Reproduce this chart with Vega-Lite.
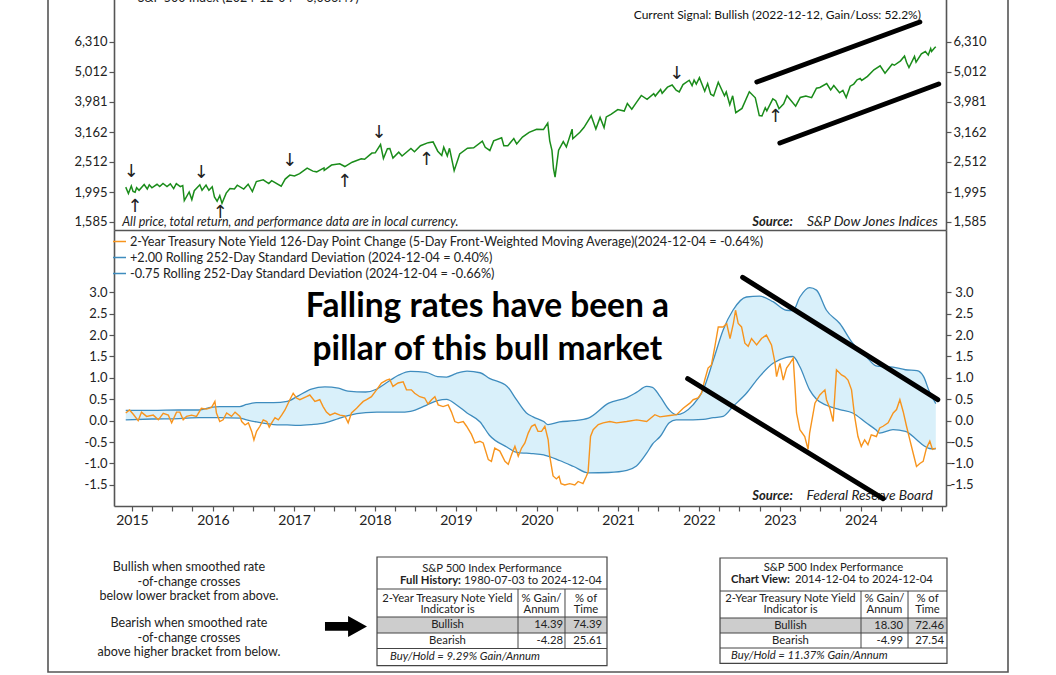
{
"$schema":"https://vega.github.io/schema/vega-lite/v6.json",
"width":960,"height":692,
"autosize":{"type":"none"},
"padding":{"left":48,"right":48,"top":-20,"bottom":3},
"background":"white",
"config":{"view":{"stroke":"#555555","strokeWidth":1.6},"font":"Lato",
 "axis":{"domainColor":"#555555","domainWidth":1.6,"tickColor":"#555555","tickWidth":1.2,"tickSize":5,"labelFont":"Lato","labelFontSize":13,"labelColor":"#222222","grid":false},
 "text":{"font":"Lato","fontSize":12.5,"color":"#222222"}},
"data":{"values":[{}]},
"datasets":{
"price":[
{"date":"2014-12-04","price":2071},{"date":"2014-12-16","price":1973},{"date":"2014-12-29","price":2090},{"date":"2015-01-06","price":2003},{"date":"2015-01-15","price":1992},{"date":"2015-01-22","price":2063},{"date":"2015-02-02","price":2021},{"date":"2015-02-25","price":2114},{"date":"2015-03-11","price":2041},{"date":"2015-03-20","price":2108},{"date":"2015-04-01","price":2060},{"date":"2015-04-24","price":2117},{"date":"2015-05-06","price":2080},{"date":"2015-05-21","price":2131},{"date":"2015-06-08","price":2080},{"date":"2015-06-23","price":2124},{"date":"2015-07-08","price":2047},{"date":"2015-07-20","price":2128},{"date":"2015-08-07","price":2078},{"date":"2015-08-18","price":2097},{"date":"2015-08-25","price":1868},{"date":"2015-09-16","price":1996},{"date":"2015-09-28","price":1882},{"date":"2015-10-09","price":2015},{"date":"2015-11-03","price":2109},{"date":"2015-11-13","price":2023},{"date":"2015-12-01","price":2103},{"date":"2015-12-14","price":2021},{"date":"2015-12-29","price":2078},{"date":"2016-01-08","price":1922},{"date":"2016-01-20","price":1859},{"date":"2016-02-01","price":1940},{"date":"2016-02-11","price":1829},{"date":"2016-03-01","price":1978},{"date":"2016-03-18","price":2049},{"date":"2016-04-07","price":2041},{"date":"2016-04-20","price":2102},{"date":"2016-05-19","price":2040},{"date":"2016-06-08","price":2119},{"date":"2016-06-27","price":2001},{"date":"2016-07-15","price":2162},{"date":"2016-08-15","price":2190},{"date":"2016-09-09","price":2128},{"date":"2016-09-22","price":2177},{"date":"2016-11-04","price":2085},{"date":"2016-11-22","price":2203},{"date":"2016-12-13","price":2271},{"date":"2017-01-03","price":2258},{"date":"2017-01-26","price":2296},{"date":"2017-03-01","price":2396},{"date":"2017-03-27","price":2342},{"date":"2017-04-13","price":2329},{"date":"2017-05-16","price":2400},{"date":"2017-05-17","price":2357},{"date":"2017-06-19","price":2453},{"date":"2017-07-26","price":2477},{"date":"2017-08-18","price":2426},{"date":"2017-09-20","price":2508},{"date":"2017-10-31","price":2575},{"date":"2017-11-15","price":2565},{"date":"2017-12-18","price":2690},{"date":"2018-01-02","price":2695},{"date":"2018-01-26","price":2873},{"date":"2018-02-08","price":2581},{"date":"2018-02-26","price":2780},{"date":"2018-03-09","price":2786},{"date":"2018-03-23","price":2588},{"date":"2018-04-18","price":2708},{"date":"2018-05-03","price":2630},{"date":"2018-06-12","price":2786},{"date":"2018-06-28","price":2716},{"date":"2018-07-25","price":2846},{"date":"2018-08-29","price":2914},{"date":"2018-09-20","price":2931},{"date":"2018-10-11","price":2729},{"date":"2018-10-29","price":2641},{"date":"2018-11-07","price":2814},{"date":"2018-11-23","price":2633},{"date":"2018-12-03","price":2790},{"date":"2018-12-24","price":2351},{"date":"2019-01-18","price":2671},{"date":"2019-02-22","price":2793},{"date":"2019-03-22","price":2801},{"date":"2019-04-30","price":2946},{"date":"2019-05-13","price":2812},{"date":"2019-06-03","price":2744},{"date":"2019-06-20","price":2954},{"date":"2019-07-26","price":3026},{"date":"2019-08-05","price":2844},{"date":"2019-08-23","price":2847},{"date":"2019-09-19","price":3006},{"date":"2019-10-02","price":2887},{"date":"2019-10-28","price":3040},{"date":"2019-11-27","price":3154},{"date":"2019-12-31","price":3231},{"date":"2020-01-31","price":3226},{"date":"2020-02-19","price":3386},{"date":"2020-02-28","price":2954},{"date":"2020-03-09","price":2747},{"date":"2020-03-16","price":2386},{"date":"2020-03-23","price":2237},{"date":"2020-04-08","price":2750},{"date":"2020-04-29","price":2939},{"date":"2020-05-13","price":2820},{"date":"2020-06-08","price":3232},{"date":"2020-06-11","price":3002},{"date":"2020-07-13","price":3155},{"date":"2020-07-31","price":3271},{"date":"2020-09-02","price":3580},{"date":"2020-09-23","price":3237},{"date":"2020-10-12","price":3535},{"date":"2020-10-30","price":3270},{"date":"2020-11-09","price":3550},{"date":"2020-11-30","price":3622},{"date":"2020-12-31","price":3756},{"date":"2021-01-29","price":3714},{"date":"2021-02-12","price":3934},{"date":"2021-03-04","price":3768},{"date":"2021-03-26","price":3975},{"date":"2021-04-16","price":4185},{"date":"2021-05-12","price":4063},{"date":"2021-06-11","price":4247},{"date":"2021-06-18","price":4166},{"date":"2021-07-12","price":4384},{"date":"2021-07-19","price":4258},{"date":"2021-08-12","price":4460},{"date":"2021-09-02","price":4537},{"date":"2021-09-20","price":4358},{"date":"2021-10-04","price":4300},{"date":"2021-10-21","price":4550},{"date":"2021-11-18","price":4704},{"date":"2021-12-01","price":4513},{"date":"2021-12-10","price":4712},{"date":"2021-12-20","price":4568},{"date":"2022-01-03","price":4797},{"date":"2022-01-27","price":4326},{"date":"2022-02-09","price":4587},{"date":"2022-02-23","price":4225},{"date":"2022-03-08","price":4171},{"date":"2022-03-29","price":4632},{"date":"2022-04-26","price":4175},{"date":"2022-05-04","price":4300},{"date":"2022-05-20","price":3901},{"date":"2022-06-02","price":4176},{"date":"2022-06-16","price":3666},{"date":"2022-07-14","price":3790},{"date":"2022-08-16","price":4305},{"date":"2022-09-12","price":4110},{"date":"2022-09-30","price":3586},{"date":"2022-10-12","price":3577},{"date":"2022-10-27","price":3807},{"date":"2022-11-03","price":3720},{"date":"2022-11-30","price":4080},{"date":"2022-12-13","price":4020},{"date":"2022-12-28","price":3783},{"date":"2023-01-18","price":3929},{"date":"2023-02-02","price":4179},{"date":"2023-03-13","price":3855},{"date":"2023-04-03","price":4124},{"date":"2023-04-28","price":4169},{"date":"2023-05-24","price":4116},{"date":"2023-06-15","price":4426},{"date":"2023-06-30","price":4450},{"date":"2023-07-31","price":4589},{"date":"2023-08-18","price":4370},{"date":"2023-09-01","price":4516},{"date":"2023-09-27","price":4274},{"date":"2023-10-12","price":4349},{"date":"2023-10-27","price":4117},{"date":"2023-11-14","price":4496},{"date":"2023-11-30","price":4568},{"date":"2023-12-15","price":4719},{"date":"2023-12-29","price":4770},{"date":"2024-01-05","price":4697},{"date":"2024-01-31","price":4846},{"date":"2024-02-29","price":5096},{"date":"2024-03-28","price":5254},{"date":"2024-04-19","price":4967},{"date":"2024-05-21","price":5321},{"date":"2024-05-31","price":5278},{"date":"2024-06-28","price":5460},{"date":"2024-07-16","price":5667},{"date":"2024-07-25","price":5399},{"date":"2024-08-05","price":5186},{"date":"2024-08-30","price":5648},{"date":"2024-09-06","price":5408},{"date":"2024-09-30","price":5762},{"date":"2024-10-18","price":5864},{"date":"2024-10-31","price":5705},{"date":"2024-11-11","price":6001},{"date":"2024-11-15","price":5870},{"date":"2024-11-29","price":6032},{"date":"2024-12-04","price":6086}
],
"arrows":[
{"date":"2014-12-29","price":2090,"dir":"down"},{"date":"2015-01-15","price":1992,"dir":"up"},{"date":"2015-11-10","price":2081,"dir":"down"},{"date":"2016-02-03","price":1912,"dir":"up"},{"date":"2016-12-13","price":2271,"dir":"down"},{"date":"2017-08-18","price":2425,"dir":"up"},{"date":"2018-01-19","price":2810,"dir":"down"},{"date":"2018-08-21","price":2862,"dir":"up"},{"date":"2021-09-23","price":4448,"dir":"down"},{"date":"2022-12-12","price":3990,"dir":"up"}
],
"roc":[
{"date":"2014-12-04","v":0.18},{"date":"2014-12-21","v":0.25},{"date":"2015-01-07","v":0.15},{"date":"2015-01-29","v":0.0},{"date":"2015-02-13","v":0.2},{"date":"2015-03-08","v":0.1},{"date":"2015-04-07","v":0.13},{"date":"2015-04-30","v":0.02},{"date":"2015-05-22","v":0.17},{"date":"2015-06-14","v":0.13},{"date":"2015-06-29","v":-0.05},{"date":"2015-07-21","v":0.2},{"date":"2015-08-05","v":0.2},{"date":"2015-08-20","v":0.02},{"date":"2015-09-04","v":0.1},{"date":"2015-09-27","v":0.13},{"date":"2015-10-19","v":0.1},{"date":"2015-11-10","v":0.29},{"date":"2015-12-03","v":0.27},{"date":"2015-12-26","v":0.31},{"date":"2016-01-10","v":0.45},{"date":"2016-01-17","v":0.18},{"date":"2016-02-01","v":-0.02},{"date":"2016-02-16","v":0.02},{"date":"2016-03-03","v":0.18},{"date":"2016-03-25","v":0.1},{"date":"2016-04-10","v":0.2},{"date":"2016-05-02","v":0.1},{"date":"2016-05-10","v":-0.02},{"date":"2016-05-25","v":-0.1},{"date":"2016-06-09","v":-0.05},{"date":"2016-06-24","v":-0.25},{"date":"2016-07-04","v":-0.45},{"date":"2016-07-16","v":-0.25},{"date":"2016-07-31","v":-0.13},{"date":"2016-08-15","v":0.02},{"date":"2016-08-31","v":-0.02},{"date":"2016-09-11","v":-0.15},{"date":"2016-09-22","v":-0.05},{"date":"2016-10-07","v":0.07},{"date":"2016-10-22","v":0.02},{"date":"2016-11-06","v":0.13},{"date":"2016-11-21","v":0.25},{"date":"2016-12-13","v":0.49},{"date":"2016-12-28","v":0.64},{"date":"2017-01-12","v":0.53},{"date":"2017-01-27","v":0.49},{"date":"2017-02-26","v":0.56},{"date":"2017-03-13","v":0.6},{"date":"2017-04-05","v":0.45},{"date":"2017-04-27","v":0.49},{"date":"2017-05-12","v":0.33},{"date":"2017-05-27","v":0.2},{"date":"2017-06-12","v":0.13},{"date":"2017-07-04","v":0.18},{"date":"2017-07-27","v":0.13},{"date":"2017-08-18","v":0.11},{"date":"2017-09-02","v":-0.05},{"date":"2017-09-17","v":0.18},{"date":"2017-10-10","v":0.29},{"date":"2017-10-25","v":0.37},{"date":"2017-11-09","v":0.45},{"date":"2017-11-24","v":0.49},{"date":"2017-12-16","v":0.56},{"date":"2018-01-08","v":0.72},{"date":"2018-01-30","v":0.88},{"date":"2018-02-22","v":0.95},{"date":"2018-03-08","v":0.97},{"date":"2018-03-23","v":0.8},{"date":"2018-04-15","v":0.88},{"date":"2018-05-08","v":0.91},{"date":"2018-05-23","v":0.72},{"date":"2018-06-14","v":0.72},{"date":"2018-06-29","v":0.64},{"date":"2018-07-22","v":0.56},{"date":"2018-08-13","v":0.53},{"date":"2018-08-28","v":0.39},{"date":"2018-09-13","v":0.49},{"date":"2018-09-28","v":0.56},{"date":"2018-10-13","v":0.37},{"date":"2018-11-04","v":0.33},{"date":"2018-11-27","v":0.37},{"date":"2018-12-12","v":0.2},{"date":"2018-12-27","v":-0.02},{"date":"2019-01-11","v":-0.05},{"date":"2019-02-03","v":-0.02},{"date":"2019-02-18","v":-0.13},{"date":"2019-03-12","v":-0.32},{"date":"2019-03-28","v":-0.52},{"date":"2019-04-19","v":-0.48},{"date":"2019-05-04","v":-0.52},{"date":"2019-05-27","v":-0.91},{"date":"2019-06-10","v":-0.95},{"date":"2019-06-25","v":-0.64},{"date":"2019-07-18","v":-0.71},{"date":"2019-08-10","v":-0.95},{"date":"2019-08-25","v":-1.02},{"date":"2019-09-09","v":-0.79},{"date":"2019-09-24","v":-0.6},{"date":"2019-10-09","v":-0.83},{"date":"2019-10-24","v":-0.64},{"date":"2019-11-08","v":-0.52},{"date":"2019-11-23","v":-0.29},{"date":"2019-12-08","v":-0.13},{"date":"2019-12-23","v":-0.09},{"date":"2020-01-06","v":-0.25},{"date":"2020-01-22","v":-0.25},{"date":"2020-02-06","v":-0.13},{"date":"2020-02-21","v":-0.45},{"date":"2020-02-28","v":-0.83},{"date":"2020-03-14","v":-1.29},{"date":"2020-03-29","v":-1.36},{"date":"2020-04-10","v":-1.3},{"date":"2020-04-19","v":-1.47},{"date":"2020-05-06","v":-1.5},{"date":"2020-05-28","v":-1.47},{"date":"2020-06-20","v":-1.5},{"date":"2020-07-05","v":-1.42},{"date":"2020-07-27","v":-1.47},{"date":"2020-08-11","v":-1.3},{"date":"2020-08-19","v":-1.2},{"date":"2020-08-30","v":-0.37},{"date":"2020-09-11","v":-0.21},{"date":"2020-10-04","v":-0.09},{"date":"2020-10-26","v":-0.05},{"date":"2020-11-25","v":-0.02},{"date":"2020-12-25","v":-0.05},{"date":"2021-02-09","v":-0.02},{"date":"2021-03-26","v":0.02},{"date":"2021-05-10","v":-0.02},{"date":"2021-06-16","v":0.14},{"date":"2021-07-09","v":0.09},{"date":"2021-08-23","v":0.12},{"date":"2021-09-22","v":0.14},{"date":"2021-10-22","v":0.29},{"date":"2021-11-21","v":0.41},{"date":"2021-12-06","v":0.49},{"date":"2021-12-28","v":0.53},{"date":"2022-01-12","v":0.64},{"date":"2022-01-27","v":0.95},{"date":"2022-02-11","v":1.23},{"date":"2022-02-26","v":1.3},{"date":"2022-03-14","v":1.74},{"date":"2022-03-29","v":2.19},{"date":"2022-04-20","v":2.19},{"date":"2022-05-06","v":2.27},{"date":"2022-05-21","v":1.92},{"date":"2022-06-05","v":2.27},{"date":"2022-06-15","v":2.58},{"date":"2022-06-27","v":2.27},{"date":"2022-07-12","v":2.19},{"date":"2022-07-27","v":1.81},{"date":"2022-08-11","v":1.74},{"date":"2022-08-26","v":1.92},{"date":"2022-09-18","v":1.77},{"date":"2022-10-10","v":1.92},{"date":"2022-11-01","v":2.0},{"date":"2022-11-24","v":1.77},{"date":"2022-12-09","v":1.38},{"date":"2022-12-17","v":1.03},{"date":"2023-01-01","v":1.34},{"date":"2023-01-16","v":0.95},{"date":"2023-01-31","v":1.23},{"date":"2023-02-15","v":1.34},{"date":"2023-03-02","v":1.46},{"date":"2023-03-09","v":0.88},{"date":"2023-03-17","v":0.18},{"date":"2023-04-01","v":-0.21},{"date":"2023-04-23","v":-0.37},{"date":"2023-05-08","v":-0.67},{"date":"2023-05-15","v":-0.29},{"date":"2023-06-08","v":0.41},{"date":"2023-06-30","v":0.6},{"date":"2023-07-23","v":0.72},{"date":"2023-07-30","v":0.49},{"date":"2023-08-14","v":0.29},{"date":"2023-08-29","v":-0.02},{"date":"2023-09-13","v":1.19},{"date":"2023-10-06","v":1.07},{"date":"2023-10-20","v":1.03},{"date":"2023-11-04","v":0.95},{"date":"2023-11-20","v":0.72},{"date":"2023-12-04","v":0.1},{"date":"2023-12-19","v":-0.37},{"date":"2024-01-03","v":-0.6},{"date":"2024-01-18","v":-0.45},{"date":"2024-02-02","v":-0.56},{"date":"2024-02-17","v":-0.33},{"date":"2024-03-11","v":-0.37},{"date":"2024-03-26","v":-0.17},{"date":"2024-04-10","v":-0.13},{"date":"2024-05-03","v":-0.05},{"date":"2024-05-26","v":0.18},{"date":"2024-06-10","v":0.26},{"date":"2024-06-25","v":0.49},{"date":"2024-07-10","v":0.21},{"date":"2024-07-25","v":-0.13},{"date":"2024-08-09","v":-0.45},{"date":"2024-08-24","v":-0.76},{"date":"2024-09-08","v":-1.07},{"date":"2024-09-23","v":-1.0},{"date":"2024-10-08","v":-0.95},{"date":"2024-10-23","v":-0.64},{"date":"2024-11-07","v":-0.48},{"date":"2024-11-19","v":-0.67},{"date":"2024-12-04","v":-0.64}
],
"band":[
{"date":"2014-12-04","upper":0.24,"lower":0.02},{"date":"2015-04-01","upper":0.24,"lower":0.04},{"date":"2015-08-01","upper":0.25,"lower":0.05},{"date":"2015-11-01","upper":0.25,"lower":0.07},{"date":"2015-12-20","upper":0.31,"lower":0.07},{"date":"2016-02-01","upper":0.33,"lower":0.07},{"date":"2016-05-01","upper":0.33,"lower":0.06},{"date":"2016-06-01","upper":0.38,"lower":0.02},{"date":"2016-07-15","upper":0.42,"lower":-0.03},{"date":"2016-10-01","upper":0.42,"lower":-0.09},{"date":"2016-12-01","upper":0.45,"lower":-0.1},{"date":"2017-01-20","upper":0.58,"lower":-0.11},{"date":"2017-03-20","upper":0.74,"lower":-0.09},{"date":"2017-05-20","upper":0.79,"lower":-0.05},{"date":"2017-07-20","upper":0.76,"lower":0.05},{"date":"2017-09-01","upper":0.69,"lower":0.12},{"date":"2017-11-20","upper":0.67,"lower":0.19},{"date":"2018-01-10","upper":0.74,"lower":0.2},{"date":"2018-02-20","upper":0.88,"lower":0.2},{"date":"2018-04-20","upper":1.07,"lower":0.2},{"date":"2018-06-10","upper":1.15,"lower":0.22},{"date":"2018-08-20","upper":1.13,"lower":0.36},{"date":"2018-10-10","upper":1.03,"lower":0.47},{"date":"2018-11-20","upper":1.02,"lower":0.5},{"date":"2019-01-01","upper":1.1,"lower":0.38},{"date":"2019-02-20","upper":1.16,"lower":0.18},{"date":"2019-04-20","upper":1.12,"lower":-0.03},{"date":"2019-06-01","upper":0.99,"lower":-0.34},{"date":"2019-08-20","upper":0.8,"lower":-0.62},{"date":"2019-10-01","upper":0.49,"lower":-0.74},{"date":"2019-11-15","upper":0.18,"lower":-0.76},{"date":"2019-12-15","upper":0.09,"lower":-0.77},{"date":"2020-02-01","upper":-0.02,"lower":-0.8},{"date":"2020-02-20","upper":-0.09,"lower":-0.83},{"date":"2020-04-12","upper":-0.03,"lower":-0.93},{"date":"2020-06-15","upper":0.0,"lower":-1.07},{"date":"2020-08-20","upper":0.06,"lower":-1.22},{"date":"2020-11-20","upper":0.41,"lower":-1.21},{"date":"2021-02-10","upper":0.54,"lower":-1.16},{"date":"2021-03-25","upper":0.66,"lower":-1.06},{"date":"2021-05-10","upper":0.8,"lower":-0.76},{"date":"2021-06-05","upper":0.78,"lower":-0.55},{"date":"2021-07-10","upper":0.56,"lower":-0.37},{"date":"2021-08-20","upper":0.25,"lower":-0.05},{"date":"2021-09-20","upper":0.14,"lower":0.02},{"date":"2021-12-05","upper":0.37,"lower":0.02},{"date":"2022-01-20","upper":0.72,"lower":0.03},{"date":"2022-03-07","upper":1.42,"lower":0.07},{"date":"2022-04-20","upper":2.12,"lower":0.1},{"date":"2022-06-03","upper":2.58,"lower":0.33},{"date":"2022-08-03","upper":2.89,"lower":0.64},{"date":"2022-10-01","upper":2.91,"lower":1.03},{"date":"2022-12-01","upper":2.78,"lower":1.34},{"date":"2023-01-30","upper":2.58,"lower":1.48},{"date":"2023-03-01","upper":2.57,"lower":1.5},{"date":"2023-04-01","upper":2.89,"lower":1.26},{"date":"2023-05-15","upper":3.11,"lower":0.72},{"date":"2023-06-15","upper":3.05,"lower":0.5},{"date":"2023-07-30","upper":2.58,"lower":0.36},{"date":"2023-09-28","upper":2.27,"lower":0.26},{"date":"2023-11-25","upper":1.81,"lower":0.18},{"date":"2024-01-25","upper":1.5,"lower":-0.05},{"date":"2024-03-10","upper":1.28,"lower":-0.22},{"date":"2024-03-25","upper":1.27,"lower":-0.29},{"date":"2024-05-25","upper":1.25,"lower":-0.21},{"date":"2024-07-20","upper":1.19,"lower":-0.25},{"date":"2024-09-10","upper":1.17,"lower":-0.45},{"date":"2024-10-10","upper":1.03,"lower":-0.58},{"date":"2024-11-05","upper":0.68,"lower":-0.65},{"date":"2024-12-04","upper":0.4,"lower":-0.66}
],
"cells":[
{"tbl":"full","r":1,"c":0,"text":"2-Year Treasury Note Yield\nIndicator is"},{"tbl":"full","r":1,"c":1,"text":"% Gain/\nAnnum"},{"tbl":"full","r":1,"c":2,"text":"% of\nTime"},
{"tbl":"full","r":2,"c":0,"text":"Bullish"},{"tbl":"full","r":2,"c":1,"text":"14.39"},{"tbl":"full","r":2,"c":2,"text":"74.39"},
{"tbl":"full","r":3,"c":0,"text":"Bearish"},{"tbl":"full","r":3,"c":1,"text":"-4.28"},{"tbl":"full","r":3,"c":2,"text":"25.61"},
{"tbl":"chart","r":1,"c":0,"text":"2-Year Treasury Note Yield\nIndicator is"},{"tbl":"chart","r":1,"c":1,"text":"% Gain/\nAnnum"},{"tbl":"chart","r":1,"c":2,"text":"% of\nTime"},
{"tbl":"chart","r":2,"c":0,"text":"Bullish"},{"tbl":"chart","r":2,"c":1,"text":"18.30"},{"tbl":"chart","r":2,"c":2,"text":"72.46"},
{"tbl":"chart","r":3,"c":0,"text":"Bearish"},{"tbl":"chart","r":3,"c":1,"text":"-4.99"},{"tbl":"chart","r":3,"c":2,"text":"27.54"}
]
},
"resolve":{"scale":{"x":"independent","y":"independent","color":"independent"},"axis":{"x":"independent","y":"independent"},"legend":{"color":"independent"}},
"layer":[
{"data":{"name":"price"},"mark":{"type":"line","color":"#1a8c1a","strokeWidth":1.5},
 "encoding":{"x":{"field":"date","type":"temporal","scale":{"domain":[{"year":2014,"month":10,"date":12},{"year":2025,"month":1,"date":19}],"range":[66,898],"nice":false},"axis":{"orient":"bottom","offset":-442,"labels":false,"ticks":false,"title":null}},
  "y":{"field":"price","type":"quantitative","scale":{"type":"log","domain":[1490.5,10154],"range":[250,0],"nice":false},"axis":{"orient":"left","offset":-66,"values":[1585,1995,2512,3162,3981,5012,6310],"format":",d","labelPadding":2,"title":null}}}},
{"data":{"name":"arrows"},"transform":[{"filter":"datum.dir == 'down'"}],
 "mark":{"type":"text","text":"↓","font":"DejaVu Sans","fontSize":18,"baseline":"middle","dy":-14,"color":"#222222"},
 "encoding":{"x":{"field":"date","type":"temporal","scale":{"domain":[{"year":2014,"month":10,"date":12},{"year":2025,"month":1,"date":19}],"range":[66,898],"nice":false},"axis":null},
  "y":{"field":"price","type":"quantitative","scale":{"type":"log","domain":[1490.5,10154],"range":[250,0],"nice":false},"axis":{"orient":"right","offset":-62,"values":[1585,1995,2512,3162,3981,5012,6310],"format":",d","labelPadding":2,"title":null}}}},
{"data":{"name":"arrows"},"transform":[{"filter":"datum.dir == 'up'"}],
 "mark":{"type":"text","text":"↑","font":"DejaVu Sans","fontSize":18,"baseline":"middle","dy":15,"color":"#222222"},
 "encoding":{"x":{"field":"date","type":"temporal","scale":{"domain":[{"year":2014,"month":10,"date":12},{"year":2025,"month":1,"date":19}],"range":[66,898],"nice":false},"axis":null},
  "y":{"field":"price","type":"quantitative","scale":{"type":"log","domain":[1490.5,10154],"range":[250,0],"nice":false},"axis":null}}},
{"data":{"values":[{"seg":"a","date":"2022-09-19","price":4642},{"seg":"a","date":"2024-09-23","price":7356},{"seg":"b","date":"2023-01-01","price":2906},{"seg":"b","date":"2024-12-17","price":4571}]},
 "mark":{"type":"line","color":"black","strokeWidth":5,"strokeCap":"round"},
 "encoding":{"x":{"field":"date","type":"temporal","scale":{"domain":[{"year":2014,"month":10,"date":12},{"year":2025,"month":1,"date":19}],"range":[66,898],"nice":false},"axis":null},
  "y":{"field":"price","type":"quantitative","scale":{"type":"log","domain":[1490.5,10154],"range":[250,0],"nice":false},"axis":null},"detail":{"field":"seg"}}},
{"mark":{"type":"text","text":"Current Signal: Bullish (2022-12-12, Gain/Loss: 52.2%)","align":"right","baseline":"middle","fontSize":12,"color":"#111111"},
 "encoding":{"x":{"datum":{"year":2024,"month":9,"date":28},"type":"temporal","scale":{"domain":[{"year":2014,"month":10,"date":12},{"year":2025,"month":1,"date":19}],"range":[66,898],"nice":false},"axis":null},
  "y":{"datum":7762,"type":"quantitative","scale":{"type":"log","domain":[1490.5,10154],"range":[250,0],"nice":false},"axis":null}}},
{"mark":{"type":"text","text":"S&P 500 Index (2024-12-04 = 6,086.49)","align":"left","baseline":"alphabetic","fontSize":12.5},
 "encoding":{"x":{"datum":{"year":2015,"month":1,"date":27},"type":"temporal","scale":{"domain":[{"year":2014,"month":10,"date":12},{"year":2025,"month":1,"date":19}],"range":[66,898],"nice":false},"axis":null},
  "y":{"datum":8577,"type":"quantitative","scale":{"type":"log","domain":[1490.5,10154],"range":[250,0],"nice":false},"axis":null}}},
{"mark":{"type":"text","text":"All price, total return, and performance data are in local currency.","align":"left","baseline":"middle","fontStyle":"italic","fontSize":12.5},
 "encoding":{"x":{"datum":{"year":2014,"month":11,"date":18},"type":"temporal","scale":{"domain":[{"year":2014,"month":10,"date":12},{"year":2025,"month":1,"date":19}],"range":[66,898],"nice":false},"axis":null},
  "y":{"datum":1585,"type":"quantitative","scale":{"type":"log","domain":[1490.5,10154],"range":[250,0],"nice":false},"axis":null}}},
{"mark":{"type":"text","text":"Source:","align":"right","baseline":"middle","fontStyle":"italic","fontWeight":"bold","fontSize":13},
 "encoding":{"x":{"datum":{"year":2023,"month":2,"date":28},"type":"temporal","scale":{"domain":[{"year":2014,"month":10,"date":12},{"year":2025,"month":1,"date":19}],"range":[66,898],"nice":false},"axis":null},
  "y":{"datum":1585,"type":"quantitative","scale":{"type":"log","domain":[1490.5,10154],"range":[250,0],"nice":false},"axis":null}}},
{"mark":{"type":"text","text":"S&P Dow Jones Indices","align":"right","baseline":"middle","fontStyle":"italic","fontSize":13.8},
 "encoding":{"x":{"datum":{"year":2024,"month":12,"date":13},"type":"temporal","scale":{"domain":[{"year":2014,"month":10,"date":12},{"year":2025,"month":1,"date":19}],"range":[66,898],"nice":false},"axis":null},
  "y":{"datum":1585,"type":"quantitative","scale":{"type":"log","domain":[1490.5,10154],"range":[250,0],"nice":false},"axis":null}}},

{"data":{"name":"band"},"mark":{"type":"area","color":"#d9f0fa","interpolate":"monotone"},
 "encoding":{"x":{"field":"date","type":"temporal","scale":{"domain":[{"year":2014,"month":10,"date":12},{"year":2025,"month":1,"date":19}],"range":[66,898],"nice":false},
   "axis":{"orient":"bottom","offset":-166,"tickCount":{"interval":"month","step":3},"labelExpr":"month(datum.value) == 0 && year(datum.value) < 2025 ? timeFormat(datum.value, '%Y') : ''","labelFontSize":14,"labelOverlap":false,"labelFlush":false,"labelPadding":2,"title":null}},
  "y":{"field":"upper","type":"quantitative","scale":{"domain":[-1.993,4.455],"range":[526,250],"nice":false,"zero":false},
   "axis":{"orient":"left","offset":-66,"values":[-1.5,-1,-0.5,0,0.5,1,1.5,2,2.5,3],"format":".1f","labelExpr":"replace(datum.label, '\u2212', '-')","labelPadding":2,"title":null}},
  "y2":{"field":"lower"}}},
{"data":{"name":"band"},"transform":[{"fold":["upper","lower"],"as":["key","v"]}],
 "mark":{"type":"line","strokeWidth":1.3,"interpolate":"monotone"},
 "encoding":{"x":{"field":"date","type":"temporal","scale":{"domain":[{"year":2014,"month":10,"date":12},{"year":2025,"month":1,"date":19}],"range":[66,898],"nice":false},"axis":null},
  "y":{"field":"v","type":"quantitative","scale":{"domain":[-1.993,4.455],"range":[526,250],"nice":false,"zero":false},"axis":null},
  "color":{"field":"key","type":"nominal","scale":{"domain":["roc","upper","lower"],"range":["#f7941d","#3e8cbe","#3e8cbe"]},
   "legend":{"orient":"none","legendX":64,"legendY":254,"title":null,"padding":0,"symbolType":"stroke","symbolSize":170,"symbolStrokeWidth":1.5,"labelFont":"Lato","labelFontSize":12.7,"labelColor":"#222222","labelLimit":900,"rowPadding":1,"labelOffset":3,
    "labelExpr":"datum.label == 'roc' ? '2-Year Treasury Note Yield 126-Day Point Change (5-Day Front-Weighted Moving Average)(2024-12-04 = -0.64%)' : datum.label == 'upper' ? '+2.00 Rolling 252-Day Standard Deviation (2024-12-04 = 0.40%)' : '-0.75 Rolling 252-Day Standard Deviation (2024-12-04 = -0.66%)'"}}}},
{"data":{"name":"roc"},"mark":{"type":"line","color":"#f7941d","strokeWidth":1.4},
 "encoding":{"x":{"field":"date","type":"temporal","scale":{"domain":[{"year":2014,"month":10,"date":12},{"year":2025,"month":1,"date":19}],"range":[66,898],"nice":false},"axis":null},
  "y":{"field":"v","type":"quantitative","scale":{"domain":[-1.993,4.455],"range":[526,250],"nice":false,"zero":false},
   "axis":{"orient":"right","offset":-62,"values":[-1.5,-1,-0.5,0,0.5,1,1.5,2,2.5,3],"format":".1f","labelExpr":"replace(datum.label, '\u2212', '-')","labelAlign":"right","labelPadding":22,"title":null}}}},
{"mark":{"type":"text","text":"Source:","align":"right","baseline":"middle","fontStyle":"italic","fontWeight":"bold","fontSize":13},
 "encoding":{"x":{"datum":{"year":2023,"month":2,"date":28},"type":"temporal","scale":{"domain":[{"year":2014,"month":10,"date":12},{"year":2025,"month":1,"date":19}],"range":[66,898],"nice":false},"axis":null},
  "y":{"datum":-1.77,"type":"quantitative","scale":{"domain":[-1.993,4.455],"range":[526,250],"nice":false,"zero":false},"axis":null}}},
{"mark":{"type":"text","text":"Federal Reserve Board","align":"right","baseline":"middle","fontStyle":"italic","fontSize":13.8},
 "encoding":{"x":{"datum":{"year":2024,"month":11,"date":21},"type":"temporal","scale":{"domain":[{"year":2014,"month":10,"date":12},{"year":2025,"month":1,"date":19}],"range":[66,898],"nice":false},"axis":null},
  "y":{"datum":-1.77,"type":"quantitative","scale":{"domain":[-1.993,4.455],"range":[526,250],"nice":false,"zero":false},"axis":null}}},
{"data":{"values":[{"seg":"a","date":"2022-07-17","v":3.35},{"seg":"a","date":"2024-12-13","v":0.49},{"seg":"b","date":"2021-11-11","v":0.98},{"seg":"b","date":"2024-04-10","v":-1.82}]},
 "mark":{"type":"line","color":"black","strokeWidth":5,"strokeCap":"round"},
 "encoding":{"x":{"field":"date","type":"temporal","scale":{"domain":[{"year":2014,"month":10,"date":12},{"year":2025,"month":1,"date":19}],"range":[66,898],"nice":false},"axis":null},
  "y":{"field":"v","type":"quantitative","scale":{"domain":[-1.993,4.455],"range":[526,250],"nice":false,"zero":false},"axis":null},"detail":{"field":"seg"}}},
{"mark":{"type":"text","text":"Falling rates have been a\npillar of this bull market","lineBreak":"\n","lineHeight":43,"align":"center","baseline":"alphabetic","fontSize":33.5,"fontWeight":"bold","font":"Lato","color":"black"},
 "encoding":{"x":{"datum":{"year":2019,"month":5,"date":23},"type":"temporal","scale":{"domain":[{"year":2014,"month":10,"date":12},{"year":2025,"month":1,"date":19}],"range":[66,898],"nice":false},"axis":null},
  "y":{"datum":2.42,"type":"quantitative","scale":{"domain":[-1.993,4.455],"range":[526,250],"nice":false,"zero":false},"axis":null}}},

{"mark":{"type":"rect","fill":"#cdcdcd"},
 "encoding":{"x":{"datum":-0.75,"type":"quantitative","scale":{"domain":[0,1,2],"range":[399.5,493.5,538],"nice":false,"zero":false},"axis":null},"x2":{"datum":2.472},
  "y":{"datum":2,"type":"quantitative","scale":{"domain":[0,1,2,3,4,5],"range":[577,609,637,653,668.5,685.7],"nice":false,"zero":false},"axis":null},"y2":{"datum":3}}},
{"mark":{"type":"rect","filled":false,"stroke":"#444444","strokeWidth":1.2},
 "encoding":{"x":{"datum":-0.75,"type":"quantitative","scale":{"domain":[0,1,2],"range":[399.5,493.5,538],"nice":false,"zero":false},"axis":null},"x2":{"datum":2.472},
  "y":{"datum":0,"type":"quantitative","scale":{"domain":[0,1,2,3,4,5],"range":[577,609,637,653,668.5,685.7],"nice":false,"zero":false},"axis":null},"y2":{"datum":5}}},
{"data":{"values":[{"r":1},{"r":2},{"r":3},{"r":4}]},"mark":{"type":"rule","color":"#444444","strokeWidth":1},
 "encoding":{"x":{"datum":-0.75,"type":"quantitative","scale":{"domain":[0,1,2],"range":[399.5,493.5,538],"nice":false,"zero":false},"axis":null},"x2":{"datum":2.472},
  "y":{"field":"r","type":"quantitative","scale":{"domain":[0,1,2,3,4,5],"range":[577,609,637,653,668.5,685.7],"nice":false,"zero":false},"axis":null}}},
{"mark":{"type":"rule","color":"#444444","strokeWidth":1},
 "encoding":{"x":{"datum":0.75,"type":"quantitative","scale":{"domain":[0,1,2],"range":[399.5,493.5,538],"nice":false,"zero":false},"axis":null},
  "y":{"datum":1,"type":"quantitative","scale":{"domain":[0,1,2,3,4,5],"range":[577,609,637,653,668.5,685.7],"nice":false,"zero":false},"axis":null},"y2":{"datum":4}}},
{"mark":{"type":"rule","color":"#444444","strokeWidth":1},
 "encoding":{"x":{"datum":1.528,"type":"quantitative","scale":{"domain":[0,1,2],"range":[399.5,493.5,538],"nice":false,"zero":false},"axis":null},
  "y":{"datum":1,"type":"quantitative","scale":{"domain":[0,1,2,3,4,5],"range":[577,609,637,653,668.5,685.7],"nice":false,"zero":false},"axis":null},"y2":{"datum":4}}},
{"mark":{"type":"text","text":"S&P 500 Index Performance","align":"center","baseline":"middle","dy":12,"fontSize":11.3},
 "encoding":{"x":{"datum":0.473,"type":"quantitative","scale":{"domain":[0,1,2],"range":[399.5,493.5,538],"nice":false,"zero":false},"axis":null},
  "y":{"datum":0,"type":"quantitative","scale":{"domain":[0,1,2,3,4,5],"range":[577,609,637,653,668.5,685.7],"nice":false,"zero":false},"axis":null}}},
{"mark":{"type":"text","text":"Full History:","align":"right","baseline":"middle","dy":23.5,"fontWeight":"bold","fontSize":11.3},
 "encoding":{"x":{"datum":0.144,"type":"quantitative","scale":{"domain":[0,1,2],"range":[399.5,493.5,538],"nice":false,"zero":false},"axis":null},
  "y":{"datum":0,"type":"quantitative","scale":{"domain":[0,1,2,3,4,5],"range":[577,609,637,653,668.5,685.7],"nice":false,"zero":false},"axis":null}}},
{"mark":{"type":"text","text":"1980-07-03 to 2024-12-04","align":"left","baseline":"middle","dy":23.5,"fontSize":11.3},
 "encoding":{"x":{"datum":0.176,"type":"quantitative","scale":{"domain":[0,1,2],"range":[399.5,493.5,538],"nice":false,"zero":false},"axis":null},
  "y":{"datum":0,"type":"quantitative","scale":{"domain":[0,1,2,3,4,5],"range":[577,609,637,653,668.5,685.7],"nice":false,"zero":false},"axis":null}}},
{"data":{"name":"cells"},"transform":[{"filter":"datum.tbl == 'full' && datum.r == 1"}],
 "mark":{"type":"text","align":"center","baseline":"middle","dy":10,"lineBreak":"\n","lineHeight":11,"fontSize":11.3},
 "encoding":{"x":{"field":"c","type":"quantitative","scale":{"domain":[0,1,2],"range":[399.5,493.5,538],"nice":false,"zero":false},"axis":null},
  "y":{"field":"r","type":"quantitative","scale":{"domain":[0,1,2,3,4,5],"range":[577,609,637,653,668.5,685.7],"nice":false,"zero":false},"axis":null},"text":{"field":"text"}}},
{"data":{"name":"cells"},"transform":[{"filter":"datum.tbl == 'full' && datum.r >= 2 && datum.c == 0"}],
 "mark":{"type":"text","align":"center","baseline":"middle","dy":8,"fontSize":11.3},
 "encoding":{"x":{"field":"c","type":"quantitative","scale":{"domain":[0,1,2],"range":[399.5,493.5,538],"nice":false,"zero":false},"axis":null},
  "y":{"field":"r","type":"quantitative","scale":{"domain":[0,1,2,3,4,5],"range":[577,609,637,653,668.5,685.7],"nice":false,"zero":false},"axis":null},"text":{"field":"text"}}},
{"data":{"name":"cells"},"transform":[{"filter":"datum.tbl == 'full' && datum.r >= 2 && datum.c == 1"}],
 "mark":{"type":"text","align":"right","baseline":"middle","dy":8,"dx":21.5,"fontSize":11.3},
 "encoding":{"x":{"field":"c","type":"quantitative","scale":{"domain":[0,1,2],"range":[399.5,493.5,538],"nice":false,"zero":false},"axis":null},
  "y":{"field":"r","type":"quantitative","scale":{"domain":[0,1,2,3,4,5],"range":[577,609,637,653,668.5,685.7],"nice":false,"zero":false},"axis":null},"text":{"field":"text"}}},
{"data":{"name":"cells"},"transform":[{"filter":"datum.tbl == 'full' && datum.r >= 2 && datum.c == 2"}],
 "mark":{"type":"text","align":"right","baseline":"middle","dy":8,"dx":16,"fontSize":11.3},
 "encoding":{"x":{"field":"c","type":"quantitative","scale":{"domain":[0,1,2],"range":[399.5,493.5,538],"nice":false,"zero":false},"axis":null},
  "y":{"field":"r","type":"quantitative","scale":{"domain":[0,1,2,3,4,5],"range":[577,609,637,653,668.5,685.7],"nice":false,"zero":false},"axis":null},"text":{"field":"text"}}},
{"mark":{"type":"text","text":"Buy/Hold = 9.29% Gain/Annum","align":"left","baseline":"middle","dy":8.5,"fontStyle":"italic","fontSize":11.3},
 "encoding":{"x":{"datum":-0.612,"type":"quantitative","scale":{"domain":[0,1,2],"range":[399.5,493.5,538],"nice":false,"zero":false},"axis":null},
  "y":{"datum":4,"type":"quantitative","scale":{"domain":[0,1,2,3,4,5],"range":[577,609,637,653,668.5,685.7],"nice":false,"zero":false},"axis":null}}},
{"mark":{"type":"text","text":"Bullish when smoothed rate\n-of-change crosses\nbelow lower bracket from above.","lineBreak":"\n","lineHeight":14.5,"align":"center","baseline":"middle","dy":10},
 "encoding":{"x":{"datum":-2.75,"type":"quantitative","scale":{"domain":[0,1,2],"range":[399.5,493.5,538],"nice":false,"zero":false},"axis":null},
  "y":{"datum":0,"type":"quantitative","scale":{"domain":[0,1,2,3,4,5],"range":[577,609,637,653,668.5,685.7],"nice":false,"zero":false},"axis":null}}},
{"mark":{"type":"text","text":"Bearish when smoothed rate\n-of-change crosses\nabove higher bracket from below.","lineBreak":"\n","lineHeight":14.5,"align":"center","baseline":"middle","dy":66},
 "encoding":{"x":{"datum":-2.75,"type":"quantitative","scale":{"domain":[0,1,2],"range":[399.5,493.5,538],"nice":false,"zero":false},"axis":null},
  "y":{"datum":0,"type":"quantitative","scale":{"domain":[0,1,2,3,4,5],"range":[577,609,637,653,668.5,685.7],"nice":false,"zero":false},"axis":null}}},
{"mark":{"type":"point","shape":"M-1,-0.21L0.1,-0.21L0.1,-0.5L1,0L0.1,0.5L0.1,0.21L-1,0.21Z","size":1764,"filled":true,"color":"black","opacity":1},
 "encoding":{"x":{"datum":-1.08,"type":"quantitative","scale":{"domain":[0,1,2],"range":[399.5,493.5,538],"nice":false,"zero":false},"axis":null},
  "y":{"datum":2.59,"type":"quantitative","scale":{"domain":[0,1,2,3,4,5],"range":[577,609,637,653,668.5,685.7],"nice":false,"zero":false},"axis":null}}},

{"mark":{"type":"rect","fill":"#cdcdcd"},
 "encoding":{"x":{"datum":-0.75,"type":"quantitative","scale":{"domain":[0,1,2],"range":[742.5,836.5,879.5],"nice":false,"zero":false},"axis":null},"x2":{"datum":2.453},
  "y":{"datum":2,"type":"quantitative","scale":{"domain":[0,1,2,3,4,5],"range":[578,611,638,653,668,683.3],"nice":false,"zero":false},"axis":null},"y2":{"datum":3}}},
{"mark":{"type":"rect","filled":false,"stroke":"#444444","strokeWidth":1.2},
 "encoding":{"x":{"datum":-0.75,"type":"quantitative","scale":{"domain":[0,1,2],"range":[742.5,836.5,879.5],"nice":false,"zero":false},"axis":null},"x2":{"datum":2.453},
  "y":{"datum":0,"type":"quantitative","scale":{"domain":[0,1,2,3,4,5],"range":[578,611,638,653,668,683.3],"nice":false,"zero":false},"axis":null},"y2":{"datum":5}}},
{"data":{"values":[{"r":1},{"r":2},{"r":3},{"r":4}]},"mark":{"type":"rule","color":"#444444","strokeWidth":1},
 "encoding":{"x":{"datum":-0.75,"type":"quantitative","scale":{"domain":[0,1,2],"range":[742.5,836.5,879.5],"nice":false,"zero":false},"axis":null},"x2":{"datum":2.453},
  "y":{"field":"r","type":"quantitative","scale":{"domain":[0,1,2,3,4,5],"range":[578,611,638,653,668,683.3],"nice":false,"zero":false},"axis":null}}},
{"mark":{"type":"rule","color":"#444444","strokeWidth":1},
 "encoding":{"x":{"datum":0.75,"type":"quantitative","scale":{"domain":[0,1,2],"range":[742.5,836.5,879.5],"nice":false,"zero":false},"axis":null},
  "y":{"datum":1,"type":"quantitative","scale":{"domain":[0,1,2,3,4,5],"range":[578,611,638,653,668,683.3],"nice":false,"zero":false},"axis":null},"y2":{"datum":4}}},
{"mark":{"type":"rule","color":"#444444","strokeWidth":1},
 "encoding":{"x":{"datum":1.547,"type":"quantitative","scale":{"domain":[0,1,2],"range":[742.5,836.5,879.5],"nice":false,"zero":false},"axis":null},
  "y":{"datum":1,"type":"quantitative","scale":{"domain":[0,1,2,3,4,5],"range":[578,611,638,653,668,683.3],"nice":false,"zero":false},"axis":null},"y2":{"datum":4}}},
{"mark":{"type":"text","text":"S&P 500 Index Performance","align":"center","baseline":"middle","dy":10,"fontSize":11.3},
 "encoding":{"x":{"datum":0.457,"type":"quantitative","scale":{"domain":[0,1,2],"range":[742.5,836.5,879.5],"nice":false,"zero":false},"axis":null},
  "y":{"datum":0,"type":"quantitative","scale":{"domain":[0,1,2,3,4,5],"range":[578,611,638,653,668,683.3],"nice":false,"zero":false},"axis":null}}},
{"mark":{"type":"text","text":"Chart View:","align":"right","baseline":"middle","dy":22,"fontWeight":"bold","fontSize":11.3},
 "encoding":{"x":{"datum":-0.005,"type":"quantitative","scale":{"domain":[0,1,2],"range":[742.5,836.5,879.5],"nice":false,"zero":false},"axis":null},
  "y":{"datum":0,"type":"quantitative","scale":{"domain":[0,1,2,3,4,5],"range":[578,611,638,653,668,683.3],"nice":false,"zero":false},"axis":null}}},
{"mark":{"type":"text","text":"2014-12-04 to 2024-12-04","align":"left","baseline":"middle","dy":22,"fontSize":11.3},
 "encoding":{"x":{"datum":0.048,"type":"quantitative","scale":{"domain":[0,1,2],"range":[742.5,836.5,879.5],"nice":false,"zero":false},"axis":null},
  "y":{"datum":0,"type":"quantitative","scale":{"domain":[0,1,2,3,4,5],"range":[578,611,638,653,668,683.3],"nice":false,"zero":false},"axis":null}}},
{"data":{"name":"cells"},"transform":[{"filter":"datum.tbl == 'chart' && datum.r == 1"}],
 "mark":{"type":"text","align":"center","baseline":"middle","dy":7.5,"lineBreak":"\n","lineHeight":11,"fontSize":11.3},
 "encoding":{"x":{"field":"c","type":"quantitative","scale":{"domain":[0,1,2],"range":[742.5,836.5,879.5],"nice":false,"zero":false},"axis":null},
  "y":{"field":"r","type":"quantitative","scale":{"domain":[0,1,2,3,4,5],"range":[578,611,638,653,668,683.3],"nice":false,"zero":false},"axis":null},"text":{"field":"text"}}},
{"data":{"name":"cells"},"transform":[{"filter":"datum.tbl == 'chart' && datum.r >= 2 && datum.c == 0"}],
 "mark":{"type":"text","align":"center","baseline":"middle","dy":7.5,"fontSize":11.3},
 "encoding":{"x":{"field":"c","type":"quantitative","scale":{"domain":[0,1,2],"range":[742.5,836.5,879.5],"nice":false,"zero":false},"axis":null},
  "y":{"field":"r","type":"quantitative","scale":{"domain":[0,1,2,3,4,5],"range":[578,611,638,653,668,683.3],"nice":false,"zero":false},"axis":null},"text":{"field":"text"}}},
{"data":{"name":"cells"},"transform":[{"filter":"datum.tbl == 'chart' && datum.r >= 2 && datum.c == 1"}],
 "mark":{"type":"text","align":"right","baseline":"middle","dy":7.5,"dx":18.5,"fontSize":11.3},
 "encoding":{"x":{"field":"c","type":"quantitative","scale":{"domain":[0,1,2],"range":[742.5,836.5,879.5],"nice":false,"zero":false},"axis":null},
  "y":{"field":"r","type":"quantitative","scale":{"domain":[0,1,2,3,4,5],"range":[578,611,638,653,668,683.3],"nice":false,"zero":false},"axis":null},"text":{"field":"text"}}},
{"data":{"name":"cells"},"transform":[{"filter":"datum.tbl == 'chart' && datum.r >= 2 && datum.c == 2"}],
 "mark":{"type":"text","align":"right","baseline":"middle","dy":7.5,"dx":16.5,"fontSize":11.3},
 "encoding":{"x":{"field":"c","type":"quantitative","scale":{"domain":[0,1,2],"range":[742.5,836.5,879.5],"nice":false,"zero":false},"axis":null},
  "y":{"field":"r","type":"quantitative","scale":{"domain":[0,1,2,3,4,5],"range":[578,611,638,653,668,683.3],"nice":false,"zero":false},"axis":null},"text":{"field":"text"}}},
{"mark":{"type":"text","text":"Buy/Hold = 11.37% Gain/Annum","align":"left","baseline":"middle","dy":7.5,"fontStyle":"italic","fontSize":11.3},
 "encoding":{"x":{"datum":-0.633,"type":"quantitative","scale":{"domain":[0,1,2],"range":[742.5,836.5,879.5],"nice":false,"zero":false},"axis":null},
  "y":{"datum":4,"type":"quantitative","scale":{"domain":[0,1,2,3,4,5],"range":[578,611,638,653,668,683.3],"nice":false,"zero":false},"axis":null}}}
]
}
